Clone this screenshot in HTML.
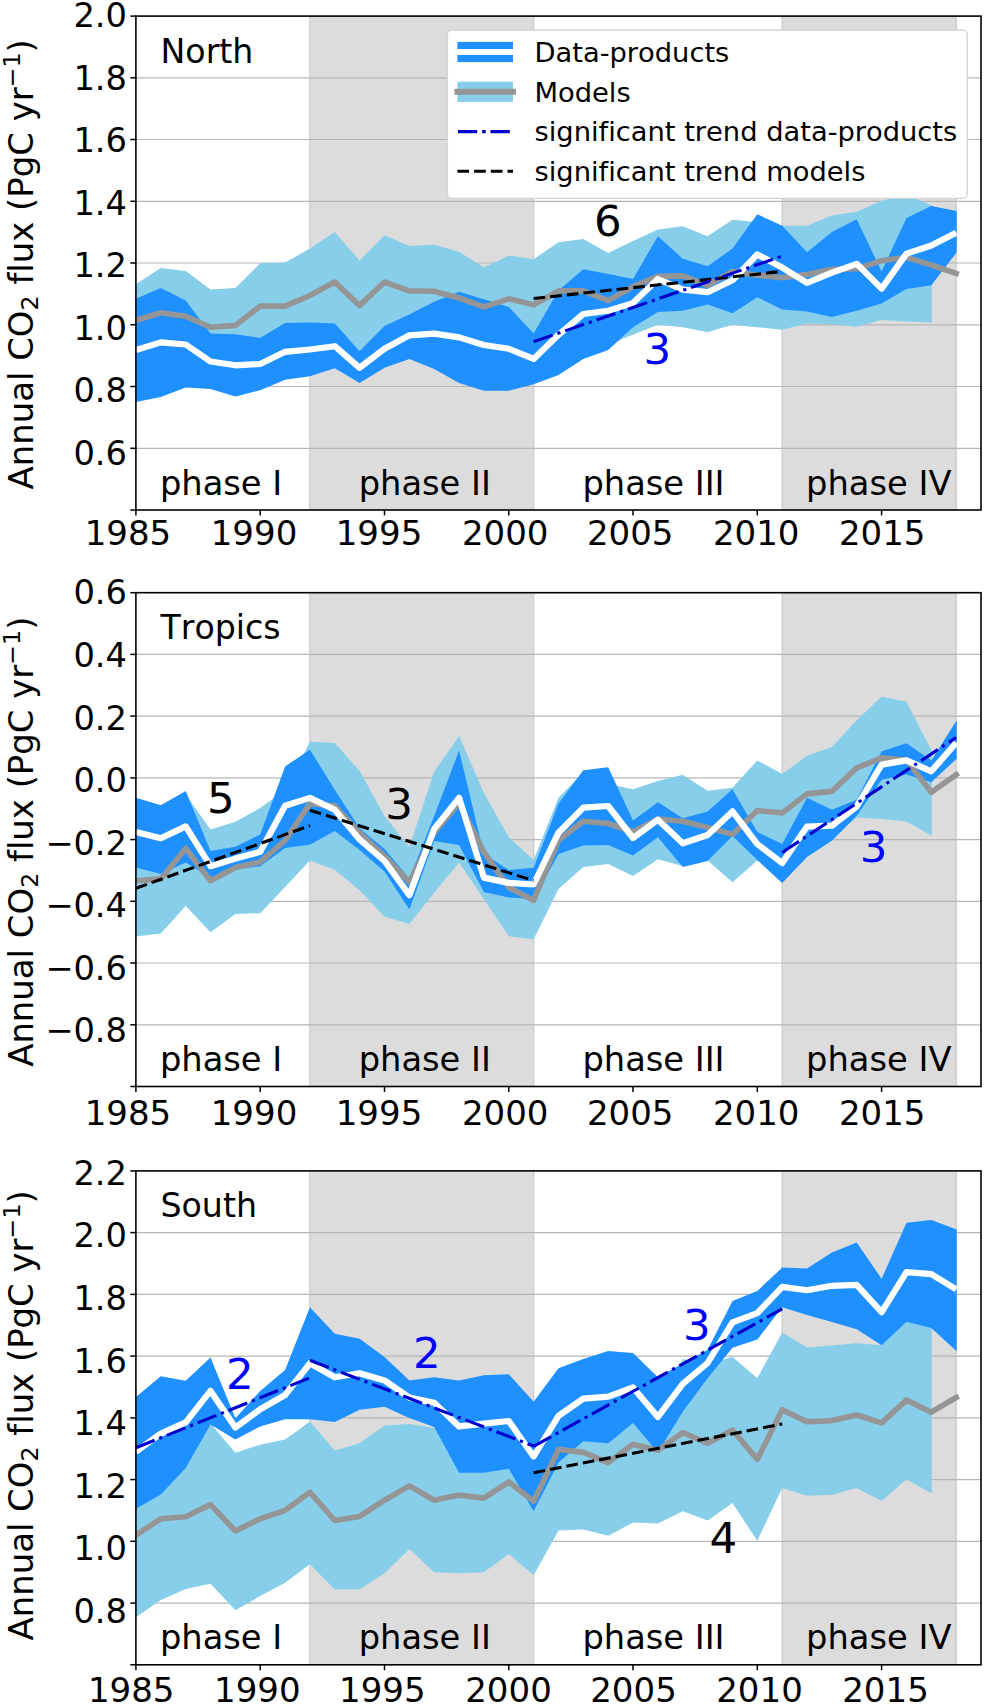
<!DOCTYPE html>
<html lang="en"><head><meta charset="utf-8"><title>Annual CO2 flux</title>
<style>html,body{margin:0;padding:0;background:#fff}svg{display:block}text{font-family:'DejaVu Sans','Liberation Sans',sans-serif;fill:#000;font-variant-ligatures:none;font-kerning:none}</style></head><body>
<svg width="985" height="1706" viewBox="0 0 985 1706">
<rect width="985" height="1706" fill="#fff"/>
<g id="panel1">
<clipPath id="clip0"><rect x="135.9" y="16.1" width="845.1" height="493.9"/></clipPath>
<rect x="309.3" y="16.1" width="224.9" height="493.9" fill="#dcdcdc"/>
<line x1="309.9" x2="309.9" y1="16.1" y2="510.0" stroke="#cdcdcd" stroke-width="1.2"/>
<line x1="533.6" x2="533.6" y1="16.1" y2="510.0" stroke="#cdcdcd" stroke-width="1.2"/>
<rect x="781.6" y="16.1" width="175.2" height="493.9" fill="#dcdcdc"/>
<line x1="782.2" x2="782.2" y1="16.1" y2="510.0" stroke="#cdcdcd" stroke-width="1.2"/>
<line x1="956.2" x2="956.2" y1="16.1" y2="510.0" stroke="#cdcdcd" stroke-width="1.2"/>
<line x1="135.9" x2="981.0" y1="77.8" y2="77.8" stroke="#b6b6b6" stroke-width="1.2"/>
<line x1="135.9" x2="981.0" y1="139.5" y2="139.5" stroke="#b6b6b6" stroke-width="1.2"/>
<line x1="135.9" x2="981.0" y1="201.3" y2="201.3" stroke="#b6b6b6" stroke-width="1.2"/>
<line x1="135.9" x2="981.0" y1="263.0" y2="263.0" stroke="#b6b6b6" stroke-width="1.2"/>
<line x1="135.9" x2="981.0" y1="324.8" y2="324.8" stroke="#b6b6b6" stroke-width="1.2"/>
<line x1="135.9" x2="981.0" y1="386.5" y2="386.5" stroke="#b6b6b6" stroke-width="1.2"/>
<line x1="135.9" x2="981.0" y1="448.3" y2="448.3" stroke="#b6b6b6" stroke-width="1.2"/>
<g clip-path="url(#clip0)">
<polygon points="135.9,284.1 160.8,268.1 185.7,270.9 210.5,289.6 235.4,287.9 260.2,263.2 285.1,262.5 309.9,248.5 334.8,232.0 359.6,260.7 384.5,235.3 409.4,246.0 434.2,244.7 459.1,251.8 483.9,267.6 508.8,255.6 533.6,259.2 558.5,242.2 583.3,238.9 608.2,253.1 633.0,240.9 657.9,229.5 682.8,226.2 707.6,236.3 732.5,219.8 757.3,221.9 782.2,225.7 807.0,225.7 831.9,215.5 856.7,211.7 881.6,200.8 906.5,194.7 931.8,205.4 931.8,322.6 906.5,321.6 881.6,320.1 856.7,326.7 831.9,324.2 807.0,323.4 782.2,329.7 757.3,327.2 732.5,324.7 707.6,332.3 682.8,327.2 657.9,324.7 633.0,334.8 608.2,344.5 583.3,315.1 558.5,333.7 533.6,359.9 508.8,349.8 483.9,346.0 459.1,338.4 434.2,336.5 409.4,337.7 384.5,347.9 359.6,368.2 334.8,346.9 309.9,350.4 285.1,352.3 260.2,365.0 235.4,366.4 210.5,362.2 185.7,345.1 160.8,343.4 135.9,351.4" fill="#87ceeb"/>
<polygon points="135.9,298.8 160.8,287.9 185.7,300.6 210.5,333.6 235.4,334.3 260.2,337.9 285.1,322.9 309.9,322.6 334.8,323.4 359.6,351.3 384.5,325.9 409.4,314.5 434.2,301.8 459.1,291.7 483.9,299.3 508.8,306.9 533.6,333.6 558.5,290.4 583.3,269.3 608.2,273.9 633.0,279.0 657.9,236.3 682.8,258.7 707.6,266.3 732.5,248.5 757.3,214.3 782.2,225.7 807.0,252.3 831.9,232.0 856.7,219.3 881.6,271.4 906.5,218.1 931.3,206.1 956.7,211.0 956.7,252.3 931.3,285.3 906.5,289.1 881.6,303.6 856.7,310.7 831.9,317.1 807.0,311.5 782.2,309.4 757.3,297.3 732.5,313.2 707.6,304.4 682.8,310.7 657.9,312.0 633.0,327.2 608.2,350.1 583.3,358.9 558.5,374.9 533.6,384.3 508.8,390.7 483.9,390.7 459.1,383.0 434.2,369.1 409.4,358.9 384.5,367.8 359.6,383.0 334.8,368.3 309.9,376.2 285.1,379.7 260.2,390.2 235.4,396.5 210.5,388.9 185.7,387.6 160.8,397.0 135.9,402.1" fill="#1e90ff"/>
<polyline points="135.9,320.4 160.8,312.7 185.7,316.3 210.5,327.2 235.4,325.4 260.2,306.1 285.1,306.1 309.9,295.5 334.8,282.0 359.6,305.6 384.5,282.0 409.4,290.9 434.2,291.2 459.1,298.0 483.9,306.9 508.8,298.8 533.6,304.9 558.5,290.9 583.3,290.9 608.2,300.6 633.0,286.6 657.9,276.4 682.8,275.9 707.6,285.3 732.5,271.4 757.3,275.2 782.2,277.7 807.0,274.4 831.9,269.3 856.7,268.8 881.6,260.7 906.5,257.4 931.3,265.0 956.2,273.4" fill="none" stroke="#959595" stroke-width="5.6" stroke-linejoin="round" stroke-linecap="square"/>
<polyline points="135.9,350.1 160.8,342.4 185.7,344.5 210.5,361.5 235.4,365.3 260.2,364.0 285.1,351.8 309.9,349.5 334.8,346.2 359.6,367.8 384.5,348.8 409.4,335.3 434.2,333.6 459.1,337.4 483.9,345.0 508.8,348.8 533.6,358.9 558.5,334.8 583.3,314.0 608.2,310.7 633.0,303.1 657.9,279.0 682.8,289.6 707.6,292.2 732.5,280.3 757.3,254.4 782.2,267.6 807.0,282.8 831.9,272.6 856.7,263.8 881.6,288.6 906.5,253.6 931.3,245.5 956.2,232.8" fill="none" stroke="#fff" stroke-width="6.2" stroke-linejoin="round" stroke-linecap="butt"/>
</g>
</g>
<g id="panel2">
<clipPath id="clip1"><rect x="135.9" y="592.7" width="845.1" height="493.8"/></clipPath>
<rect x="309.3" y="592.7" width="224.9" height="493.8" fill="#dcdcdc"/>
<line x1="309.9" x2="309.9" y1="592.7" y2="1086.5" stroke="#cdcdcd" stroke-width="1.2"/>
<line x1="533.6" x2="533.6" y1="592.7" y2="1086.5" stroke="#cdcdcd" stroke-width="1.2"/>
<rect x="781.6" y="592.7" width="175.2" height="493.8" fill="#dcdcdc"/>
<line x1="782.2" x2="782.2" y1="592.7" y2="1086.5" stroke="#cdcdcd" stroke-width="1.2"/>
<line x1="956.2" x2="956.2" y1="592.7" y2="1086.5" stroke="#cdcdcd" stroke-width="1.2"/>
<line x1="135.9" x2="981.0" y1="654.4" y2="654.4" stroke="#b6b6b6" stroke-width="1.2"/>
<line x1="135.9" x2="981.0" y1="716.1" y2="716.1" stroke="#b6b6b6" stroke-width="1.2"/>
<line x1="135.9" x2="981.0" y1="777.9" y2="777.9" stroke="#b6b6b6" stroke-width="1.2"/>
<line x1="135.9" x2="981.0" y1="839.6" y2="839.6" stroke="#b6b6b6" stroke-width="1.2"/>
<line x1="135.9" x2="981.0" y1="901.3" y2="901.3" stroke="#b6b6b6" stroke-width="1.2"/>
<line x1="135.9" x2="981.0" y1="963.0" y2="963.0" stroke="#b6b6b6" stroke-width="1.2"/>
<line x1="135.9" x2="981.0" y1="1024.8" y2="1024.8" stroke="#b6b6b6" stroke-width="1.2"/>
<g clip-path="url(#clip1)">
<polygon points="135.9,801.0 160.8,808.0 185.7,794.4 210.5,829.4 235.4,821.8 260.2,807.9 285.1,790.1 309.9,741.8 334.8,743.1 359.6,770.8 384.5,815.9 409.4,847.2 434.2,771.8 459.1,736.0 483.9,793.1 508.8,837.3 533.6,860.1 558.5,797.7 583.3,772.5 608.2,784.0 633.0,789.3 657.9,780.9 682.8,774.8 707.6,790.8 732.5,787.8 757.3,760.4 782.2,774.1 807.0,755.8 831.9,747.0 856.7,720.2 881.6,696.8 906.5,701.8 931.8,751.2 931.8,835.8 906.5,821.5 881.6,819.0 856.7,817.4 831.9,838.0 807.0,855.0 782.2,878.0 757.3,860.5 732.5,882.2 707.6,860.5 682.8,866.0 657.9,859.3 633.0,876.1 608.2,863.9 583.3,866.9 558.5,889.0 533.6,939.3 508.8,936.2 483.9,899.2 459.1,862.4 434.2,892.8 409.4,924.1 384.5,916.4 359.6,890.3 334.8,869.8 309.9,860.6 285.1,887.0 260.2,913.2 235.4,914.0 210.5,932.2 185.7,906.1 160.8,933.5 135.9,936.5" fill="#87ceeb"/>
<polygon points="135.9,797.7 160.8,805.3 185.7,790.9 210.5,851.0 235.4,846.7 260.2,834.5 285.1,766.5 309.9,749.7 334.8,789.7 359.6,828.2 384.5,849.0 409.4,878.4 434.2,815.9 459.1,750.5 483.9,854.0 508.8,870.0 533.6,867.7 558.5,803.5 583.3,770.3 608.2,767.2 633.0,820.5 657.9,802.2 682.8,818.2 707.6,811.4 732.5,789.3 757.3,831.9 782.2,844.1 807.0,797.7 831.9,809.8 856.7,799.8 881.6,751.2 906.5,743.3 931.3,760.4 956.7,720.2 956.7,758.7 931.3,782.2 906.5,774.6 881.6,779.7 856.7,815.7 831.9,840.8 807.0,857.0 782.2,882.9 757.3,860.1 732.5,836.0 707.6,860.9 682.8,866.9 657.9,837.3 633.0,855.5 608.2,844.9 583.3,845.6 558.5,854.0 533.6,898.9 508.8,897.4 483.9,892.1 459.1,844.9 434.2,841.1 409.4,909.6 384.5,871.5 359.6,850.0 334.8,830.9 309.9,844.7 285.1,848.0 260.2,866.2 235.4,869.5 210.5,877.7 185.7,862.4 160.8,873.9 135.9,867.5" fill="#1e90ff"/>
<polyline points="135.9,880.7 160.8,878.9 185.7,848.5 210.5,880.7 235.4,867.5 260.2,861.9 285.1,840.5 309.9,803.8 334.8,805.8 359.6,832.8 384.5,856.0 409.4,882.2 434.2,832.7 459.1,803.0 483.9,852.2 508.8,887.5 533.6,900.4 558.5,840.3 583.3,821.3 608.2,823.5 633.0,831.9 657.9,819.0 682.8,821.3 707.6,827.4 732.5,834.5 757.3,810.6 782.2,812.9 807.0,793.9 831.9,791.4 856.7,767.9 881.6,757.9 906.5,760.4 931.3,792.2 956.2,774.6" fill="none" stroke="#959595" stroke-width="5.6" stroke-linejoin="round" stroke-linecap="square"/>
<polyline points="135.9,832.0 160.8,838.3 185.7,826.4 210.5,866.2 235.4,858.6 260.2,851.8 285.1,805.8 309.9,797.9 334.8,809.7 359.6,839.4 384.5,861.0 409.4,895.1 434.2,828.9 459.1,797.9 483.9,877.6 508.8,882.9 533.6,884.5 558.5,832.7 583.3,807.6 608.2,806.0 633.0,838.0 657.9,819.7 682.8,843.3 707.6,835.0 732.5,811.4 757.3,844.1 782.2,863.1 807.0,826.6 831.9,825.7 856.7,806.5 881.6,764.6 906.5,760.4 931.3,771.3 956.2,742.8" fill="none" stroke="#fff" stroke-width="6.2" stroke-linejoin="round" stroke-linecap="butt"/>
</g>
</g>
<g id="panel3">
<clipPath id="clip2"><rect x="135.9" y="1170.9" width="845.1" height="493.9"/></clipPath>
<rect x="309.3" y="1170.9" width="224.9" height="493.9" fill="#dcdcdc"/>
<line x1="309.9" x2="309.9" y1="1170.9" y2="1664.8" stroke="#cdcdcd" stroke-width="1.2"/>
<line x1="533.6" x2="533.6" y1="1170.9" y2="1664.8" stroke="#cdcdcd" stroke-width="1.2"/>
<rect x="781.6" y="1170.9" width="175.2" height="493.9" fill="#dcdcdc"/>
<line x1="782.2" x2="782.2" y1="1170.9" y2="1664.8" stroke="#cdcdcd" stroke-width="1.2"/>
<line x1="956.2" x2="956.2" y1="1170.9" y2="1664.8" stroke="#cdcdcd" stroke-width="1.2"/>
<line x1="135.9" x2="981.0" y1="1232.6" y2="1232.6" stroke="#b6b6b6" stroke-width="1.2"/>
<line x1="135.9" x2="981.0" y1="1294.4" y2="1294.4" stroke="#b6b6b6" stroke-width="1.2"/>
<line x1="135.9" x2="981.0" y1="1356.1" y2="1356.1" stroke="#b6b6b6" stroke-width="1.2"/>
<line x1="135.9" x2="981.0" y1="1417.9" y2="1417.9" stroke="#b6b6b6" stroke-width="1.2"/>
<line x1="135.9" x2="981.0" y1="1479.6" y2="1479.6" stroke="#b6b6b6" stroke-width="1.2"/>
<line x1="135.9" x2="981.0" y1="1541.3" y2="1541.3" stroke="#b6b6b6" stroke-width="1.2"/>
<line x1="135.9" x2="981.0" y1="1603.1" y2="1603.1" stroke="#b6b6b6" stroke-width="1.2"/>
<g clip-path="url(#clip2)">
<polygon points="135.9,1506.0 160.8,1492.0 185.7,1466.0 210.5,1423.5 235.4,1452.8 260.2,1444.7 285.1,1439.6 309.9,1421.5 334.8,1450.4 359.6,1443.3 384.5,1425.6 409.4,1424.0 434.2,1428.1 459.1,1426.6 483.9,1424.0 508.8,1421.5 533.6,1456.5 558.5,1415.4 583.3,1400.2 608.2,1397.1 633.0,1388.0 657.9,1414.8 682.8,1358.9 707.6,1364.0 732.5,1356.9 757.3,1378.2 782.2,1332.5 807.0,1347.6 831.9,1345.4 856.7,1343.2 881.6,1345.2 906.5,1272.2 931.8,1273.9 931.8,1493.4 906.5,1479.2 881.6,1500.9 856.7,1488.1 831.9,1494.7 807.0,1495.7 782.2,1487.9 757.3,1540.7 732.5,1503.1 707.6,1520.4 682.8,1511.3 657.9,1523.5 633.0,1522.5 608.2,1535.7 583.3,1529.6 558.5,1530.6 533.6,1575.3 508.8,1554.0 483.9,1572.2 459.1,1573.2 434.2,1572.2 409.4,1548.9 384.5,1573.2 359.6,1589.5 334.8,1589.5 309.9,1564.3 285.1,1582.8 260.2,1596.0 235.4,1610.2 210.5,1583.8 185.7,1588.9 160.8,1600.0 135.9,1617.3" fill="#87ceeb"/>
<polygon points="135.9,1397.0 160.8,1376.3 185.7,1380.8 210.5,1357.4 235.4,1418.3 260.2,1390.9 285.1,1370.0 309.9,1307.3 334.8,1333.7 359.6,1338.7 384.5,1357.0 409.4,1380.4 434.2,1377.3 459.1,1380.4 483.9,1375.3 508.8,1374.3 533.6,1401.7 558.5,1368.2 583.3,1359.0 608.2,1350.9 633.0,1352.9 657.9,1377.3 682.8,1363.5 707.6,1349.8 732.5,1301.1 757.3,1290.9 782.2,1267.6 807.0,1268.4 831.9,1252.4 856.7,1242.6 881.6,1278.8 906.5,1222.7 931.3,1219.9 956.7,1229.4 956.7,1351.3 931.3,1327.9 906.5,1321.8 881.6,1345.2 856.7,1329.2 831.9,1322.1 807.0,1315.0 782.2,1307.2 757.3,1339.6 732.5,1347.8 707.6,1378.2 682.8,1411.5 657.9,1452.4 633.0,1423.0 608.2,1443.3 583.3,1441.3 558.5,1462.6 533.6,1511.3 508.8,1468.7 483.9,1472.7 459.1,1472.7 434.2,1427.1 409.4,1417.9 384.5,1406.8 359.6,1409.8 334.8,1422.0 309.9,1419.2 285.1,1419.3 260.2,1426.4 235.4,1439.6 210.5,1424.4 185.7,1468.1 160.8,1494.5 135.9,1508.7" fill="#1e90ff"/>
<polyline points="135.9,1535.1 160.8,1518.8 185.7,1516.8 210.5,1504.6 235.4,1531.0 260.2,1518.8 285.1,1510.3 309.9,1492.2 334.8,1520.5 359.6,1516.4 384.5,1500.2 409.4,1485.9 434.2,1500.2 459.1,1495.1 483.9,1498.1 508.8,1481.9 533.6,1501.2 558.5,1449.4 583.3,1452.4 608.2,1462.6 633.0,1444.3 657.9,1450.4 682.8,1432.5 707.6,1443.2 732.5,1430.0 757.3,1459.4 782.2,1409.7 807.0,1421.8 831.9,1420.6 856.7,1415.0 881.6,1422.9 906.5,1400.0 931.3,1412.2 956.2,1397.4" fill="none" stroke="#959595" stroke-width="5.6" stroke-linejoin="round" stroke-linecap="square"/>
<polyline points="135.9,1451.8 160.8,1433.6 185.7,1422.4 210.5,1390.9 235.4,1427.5 260.2,1409.2 285.1,1395.0 309.9,1363.3 334.8,1377.3 359.6,1373.2 384.5,1380.4 409.4,1397.6 434.2,1402.7 459.1,1426.4 483.9,1423.6 508.8,1421.0 533.6,1456.5 558.5,1415.9 583.3,1398.6 608.2,1396.6 633.0,1387.5 657.9,1416.9 682.8,1383.9 707.6,1363.0 732.5,1322.4 757.3,1313.2 782.2,1286.9 807.0,1290.2 831.9,1285.8 856.7,1284.8 881.6,1312.1 906.5,1272.1 931.3,1274.1 956.2,1289.3" fill="none" stroke="#fff" stroke-width="6.2" stroke-linejoin="round" stroke-linecap="butt"/>
</g>
</g>
<g id="trends" fill="none">
<line x1="533.6" y1="298.5" x2="782.2" y2="271.4" stroke="#000" stroke-width="3.1" stroke-dasharray="11.7 5.0"/>
<line x1="533.6" y1="341.7" x2="782.2" y2="256.1" stroke="#0000cd" stroke-width="3.1" stroke-dasharray="20.1 5.0 3.2 5.0"/>
<line x1="135.9" y1="888.3" x2="309.9" y2="825.6" stroke="#000" stroke-width="3.1" stroke-dasharray="11.7 5.0"/>
<line x1="309.9" y1="810.2" x2="533.6" y2="880.6" stroke="#000" stroke-width="3.1" stroke-dasharray="11.7 5.0"/>
<line x1="782.2" y1="852.5" x2="956.2" y2="737.5" stroke="#0000cd" stroke-width="3.1" stroke-dasharray="20.1 5.0 3.2 5.0"/>
<line x1="135.9" y1="1447.8" x2="309.9" y2="1377.7" stroke="#0000cd" stroke-width="3.1" stroke-dasharray="20.1 5.0 3.2 5.0"/>
<line x1="309.9" y1="1360.3" x2="533.6" y2="1446.0" stroke="#0000cd" stroke-width="3.1" stroke-dasharray="20.1 5.0 3.2 5.0"/>
<line x1="533.6" y1="1446.3" x2="782.2" y2="1308.9" stroke="#0000cd" stroke-width="3.1" stroke-dasharray="20.1 5.0 3.2 5.0"/>
<line x1="533.6" y1="1472.7" x2="782.2" y2="1424.0" stroke="#000" stroke-width="3.1" stroke-dasharray="11.7 5.0"/>
</g>
<g id="axes1">
<line x1="130.3" x2="135.9" y1="510.0" y2="510.0" stroke="#000" stroke-width="1.5"/>
<line x1="130.3" x2="135.9" y1="16.1" y2="16.1" stroke="#000" stroke-width="1.5"/>
<text x="127.0" y="27.1" font-size="33.7" text-anchor="end">2.0</text>
<line x1="130.3" x2="135.9" y1="77.8" y2="77.8" stroke="#000" stroke-width="1.5"/>
<text x="127.0" y="89.7" font-size="33.7" text-anchor="end">1.8</text>
<line x1="130.3" x2="135.9" y1="139.5" y2="139.5" stroke="#000" stroke-width="1.5"/>
<text x="127.0" y="152.2" font-size="33.7" text-anchor="end">1.6</text>
<line x1="130.3" x2="135.9" y1="201.3" y2="201.3" stroke="#000" stroke-width="1.5"/>
<text x="127.0" y="214.8" font-size="33.7" text-anchor="end">1.4</text>
<line x1="130.3" x2="135.9" y1="263.0" y2="263.0" stroke="#000" stroke-width="1.5"/>
<text x="127.0" y="277.3" font-size="33.7" text-anchor="end">1.2</text>
<line x1="130.3" x2="135.9" y1="324.8" y2="324.8" stroke="#000" stroke-width="1.5"/>
<text x="127.0" y="339.9" font-size="33.7" text-anchor="end">1.0</text>
<line x1="130.3" x2="135.9" y1="386.5" y2="386.5" stroke="#000" stroke-width="1.5"/>
<text x="127.0" y="402.4" font-size="33.7" text-anchor="end">0.8</text>
<line x1="130.3" x2="135.9" y1="448.3" y2="448.3" stroke="#000" stroke-width="1.5"/>
<text x="127.0" y="465.0" font-size="33.7" text-anchor="end">0.6</text>
<line x1="135.9" x2="135.9" y1="510.0" y2="515.4" stroke="#000" stroke-width="1.5"/>
<text x="127.9" y="545.4" font-size="34.0" text-anchor="middle">1985</text>
<line x1="260.2" x2="260.2" y1="510.0" y2="515.4" stroke="#000" stroke-width="1.5"/>
<text x="254.0" y="545.4" font-size="34.0" text-anchor="middle">1990</text>
<line x1="384.5" x2="384.5" y1="510.0" y2="515.4" stroke="#000" stroke-width="1.5"/>
<text x="379.0" y="545.4" font-size="34.0" text-anchor="middle">1995</text>
<line x1="508.8" x2="508.8" y1="510.0" y2="515.4" stroke="#000" stroke-width="1.5"/>
<text x="505.2" y="545.4" font-size="34.0" text-anchor="middle">2000</text>
<line x1="633.0" x2="633.0" y1="510.0" y2="515.4" stroke="#000" stroke-width="1.5"/>
<text x="630.2" y="545.4" font-size="34.0" text-anchor="middle">2005</text>
<line x1="757.3" x2="757.3" y1="510.0" y2="515.4" stroke="#000" stroke-width="1.5"/>
<text x="756.2" y="545.4" font-size="34.0" text-anchor="middle">2010</text>
<line x1="881.6" x2="881.6" y1="510.0" y2="515.4" stroke="#000" stroke-width="1.5"/>
<text x="882.2" y="545.4" font-size="34.0" text-anchor="middle">2015</text>
<rect x="135.9" y="16.1" width="845.1" height="493.9" fill="none" stroke="#000" stroke-width="1.6"/>
<text x="160.5" y="62.5" font-size="33.2">North</text>
<text x="159.9" y="494.6" font-size="33.7">phase I</text>
<text x="358.7" y="494.6" font-size="33.7">phase II</text>
<text x="582.4" y="494.6" font-size="33.7">phase III</text>
<text x="806.1" y="494.6" font-size="33.7">phase IV</text>
<text transform="translate(32.6 264.3) rotate(-90)" font-size="33.9" text-anchor="middle">Annual CO<tspan font-size="23.7" dy="5.5">2</tspan><tspan dy="-5.5"> flux (PgC yr</tspan><tspan font-size="23.7" dy="-12.5">−1</tspan><tspan dy="12.5">)</tspan></text>
</g>
<g id="axes2">
<line x1="130.3" x2="135.9" y1="1086.5" y2="1086.5" stroke="#000" stroke-width="1.5"/>
<line x1="130.3" x2="135.9" y1="592.7" y2="592.7" stroke="#000" stroke-width="1.5"/>
<text x="127.0" y="604.4" font-size="33.7" text-anchor="end">0.6</text>
<line x1="130.3" x2="135.9" y1="654.4" y2="654.4" stroke="#000" stroke-width="1.5"/>
<text x="127.0" y="667.0" font-size="33.7" text-anchor="end">0.4</text>
<line x1="130.3" x2="135.9" y1="716.1" y2="716.1" stroke="#000" stroke-width="1.5"/>
<text x="127.0" y="729.5" font-size="33.7" text-anchor="end">0.2</text>
<line x1="130.3" x2="135.9" y1="777.9" y2="777.9" stroke="#000" stroke-width="1.5"/>
<text x="127.0" y="792.1" font-size="33.7" text-anchor="end">0.0</text>
<line x1="130.3" x2="135.9" y1="839.6" y2="839.6" stroke="#000" stroke-width="1.5"/>
<text x="127.0" y="854.6" font-size="33.7" text-anchor="end">−0.2</text>
<line x1="130.3" x2="135.9" y1="901.3" y2="901.3" stroke="#000" stroke-width="1.5"/>
<text x="127.0" y="917.2" font-size="33.7" text-anchor="end">−0.4</text>
<line x1="130.3" x2="135.9" y1="963.0" y2="963.0" stroke="#000" stroke-width="1.5"/>
<text x="127.0" y="979.7" font-size="33.7" text-anchor="end">−0.6</text>
<line x1="130.3" x2="135.9" y1="1024.8" y2="1024.8" stroke="#000" stroke-width="1.5"/>
<text x="127.0" y="1042.2" font-size="33.7" text-anchor="end">−0.8</text>
<line x1="135.9" x2="135.9" y1="1086.5" y2="1091.9" stroke="#000" stroke-width="1.5"/>
<text x="127.9" y="1125.0" font-size="34.0" text-anchor="middle">1985</text>
<line x1="260.2" x2="260.2" y1="1086.5" y2="1091.9" stroke="#000" stroke-width="1.5"/>
<text x="254.0" y="1125.0" font-size="34.0" text-anchor="middle">1990</text>
<line x1="384.5" x2="384.5" y1="1086.5" y2="1091.9" stroke="#000" stroke-width="1.5"/>
<text x="379.0" y="1125.0" font-size="34.0" text-anchor="middle">1995</text>
<line x1="508.8" x2="508.8" y1="1086.5" y2="1091.9" stroke="#000" stroke-width="1.5"/>
<text x="505.2" y="1125.0" font-size="34.0" text-anchor="middle">2000</text>
<line x1="633.0" x2="633.0" y1="1086.5" y2="1091.9" stroke="#000" stroke-width="1.5"/>
<text x="630.2" y="1125.0" font-size="34.0" text-anchor="middle">2005</text>
<line x1="757.3" x2="757.3" y1="1086.5" y2="1091.9" stroke="#000" stroke-width="1.5"/>
<text x="756.2" y="1125.0" font-size="34.0" text-anchor="middle">2010</text>
<line x1="881.6" x2="881.6" y1="1086.5" y2="1091.9" stroke="#000" stroke-width="1.5"/>
<text x="882.2" y="1125.0" font-size="34.0" text-anchor="middle">2015</text>
<rect x="135.9" y="592.7" width="845.1" height="493.8" fill="none" stroke="#000" stroke-width="1.6"/>
<text x="160.5" y="639.1" font-size="33.2">Tropics</text>
<text x="159.9" y="1071.1" font-size="33.7">phase I</text>
<text x="358.7" y="1071.1" font-size="33.7">phase II</text>
<text x="582.4" y="1071.1" font-size="33.7">phase III</text>
<text x="806.1" y="1071.1" font-size="33.7">phase IV</text>
<text transform="translate(32.6 841.7) rotate(-90)" font-size="33.9" text-anchor="middle">Annual CO<tspan font-size="23.7" dy="5.5">2</tspan><tspan dy="-5.5"> flux (PgC yr</tspan><tspan font-size="23.7" dy="-12.5">−1</tspan><tspan dy="12.5">)</tspan></text>
</g>
<g id="axes3">
<line x1="130.3" x2="135.9" y1="1664.8" y2="1664.8" stroke="#000" stroke-width="1.5"/>
<line x1="130.3" x2="135.9" y1="1170.9" y2="1170.9" stroke="#000" stroke-width="1.5"/>
<text x="127.0" y="1184.8" font-size="33.7" text-anchor="end">2.2</text>
<line x1="130.3" x2="135.9" y1="1232.6" y2="1232.6" stroke="#000" stroke-width="1.5"/>
<text x="127.0" y="1247.4" font-size="33.7" text-anchor="end">2.0</text>
<line x1="130.3" x2="135.9" y1="1294.4" y2="1294.4" stroke="#000" stroke-width="1.5"/>
<text x="127.0" y="1309.9" font-size="33.7" text-anchor="end">1.8</text>
<line x1="130.3" x2="135.9" y1="1356.1" y2="1356.1" stroke="#000" stroke-width="1.5"/>
<text x="127.0" y="1372.5" font-size="33.7" text-anchor="end">1.6</text>
<line x1="130.3" x2="135.9" y1="1417.9" y2="1417.9" stroke="#000" stroke-width="1.5"/>
<text x="127.0" y="1435.0" font-size="33.7" text-anchor="end">1.4</text>
<line x1="130.3" x2="135.9" y1="1479.6" y2="1479.6" stroke="#000" stroke-width="1.5"/>
<text x="127.0" y="1497.6" font-size="33.7" text-anchor="end">1.2</text>
<line x1="130.3" x2="135.9" y1="1541.3" y2="1541.3" stroke="#000" stroke-width="1.5"/>
<text x="127.0" y="1560.1" font-size="33.7" text-anchor="end">1.0</text>
<line x1="130.3" x2="135.9" y1="1603.1" y2="1603.1" stroke="#000" stroke-width="1.5"/>
<text x="127.0" y="1622.7" font-size="33.7" text-anchor="end">0.8</text>
<line x1="135.9" x2="135.9" y1="1664.8" y2="1670.2" stroke="#000" stroke-width="1.5"/>
<text x="131.2" y="1701.8" font-size="34.0" text-anchor="middle">1985</text>
<line x1="260.2" x2="260.2" y1="1664.8" y2="1670.2" stroke="#000" stroke-width="1.5"/>
<text x="257.3" y="1701.8" font-size="34.0" text-anchor="middle">1990</text>
<line x1="384.5" x2="384.5" y1="1664.8" y2="1670.2" stroke="#000" stroke-width="1.5"/>
<text x="382.3" y="1701.8" font-size="34.0" text-anchor="middle">1995</text>
<line x1="508.8" x2="508.8" y1="1664.8" y2="1670.2" stroke="#000" stroke-width="1.5"/>
<text x="508.5" y="1701.8" font-size="34.0" text-anchor="middle">2000</text>
<line x1="633.0" x2="633.0" y1="1664.8" y2="1670.2" stroke="#000" stroke-width="1.5"/>
<text x="633.5" y="1701.8" font-size="34.0" text-anchor="middle">2005</text>
<line x1="757.3" x2="757.3" y1="1664.8" y2="1670.2" stroke="#000" stroke-width="1.5"/>
<text x="759.5" y="1701.8" font-size="34.0" text-anchor="middle">2010</text>
<line x1="881.6" x2="881.6" y1="1664.8" y2="1670.2" stroke="#000" stroke-width="1.5"/>
<text x="885.5" y="1701.8" font-size="34.0" text-anchor="middle">2015</text>
<rect x="135.9" y="1170.9" width="845.1" height="493.9" fill="none" stroke="#000" stroke-width="1.6"/>
<text x="160.5" y="1217.3" font-size="33.2">South</text>
<text x="159.9" y="1649.4" font-size="33.7">phase I</text>
<text x="358.7" y="1649.4" font-size="33.7">phase II</text>
<text x="582.4" y="1649.4" font-size="33.7">phase III</text>
<text x="806.1" y="1649.4" font-size="33.7">phase IV</text>
<text transform="translate(32.6 1415.4) rotate(-90)" font-size="33.9" text-anchor="middle">Annual CO<tspan font-size="23.7" dy="5.5">2</tspan><tspan dy="-5.5"> flux (PgC yr</tspan><tspan font-size="23.7" dy="-12.5">−1</tspan><tspan dy="12.5">)</tspan></text>
</g>
<g id="nums">
<text x="594.0" y="236.0" font-size="43.5" style="fill:#000">6</text>
<text x="643.5" y="364.0" font-size="43.5" style="fill:#0000ff">3</text>
<text x="207.0" y="813.0" font-size="43.5" style="fill:#000">5</text>
<text x="385.3" y="819.0" font-size="43.5" style="fill:#000">3</text>
<text x="859.7" y="861.7" font-size="43.5" style="fill:#0000ff">3</text>
<text x="226.0" y="1388.9" font-size="43.5" style="fill:#0000ff">2</text>
<text x="413.1" y="1368.2" font-size="43.5" style="fill:#0000ff">2</text>
<text x="683.0" y="1339.6" font-size="43.5" style="fill:#0000ff">3</text>
<text x="709.5" y="1552.8" font-size="43.5" style="fill:#000">4</text>
</g>
<g id="legend">
<rect x="447.4" y="30.0" width="519.8" height="168.4" rx="4.5" ry="4.5" fill="#fff" stroke="#d4d4d4" stroke-width="1.4"/>
<rect x="457.4" y="41.9" width="55.6" height="20.2" fill="#1e90ff"/>
<line x1="454.4" x2="516.0" y1="52.0" y2="52.0" stroke="#fff" stroke-width="6.2"/>
<rect x="457.4" y="81.7" width="55.6" height="20.2" fill="#87ceeb"/>
<line x1="454.4" x2="516.0" y1="91.8" y2="91.8" stroke="#959595" stroke-width="5.9"/>
<line x1="457.9" x2="510.0" y1="131.6" y2="131.6" stroke="#0000cd" stroke-width="3.1" stroke-dasharray="19.3 4.9 3.6 4.8"/>
<line x1="457.4" x2="513.0" y1="171.3" y2="171.3" stroke="#000" stroke-width="3.1" stroke-dasharray="11.7 5.0"/>
<text x="534.5" y="61.7" font-size="27.3">Data-products</text>
<text x="534.5" y="101.5" font-size="27.3">Models</text>
<text x="534.5" y="141.3" font-size="27.3">significant trend data-products</text>
<text x="534.5" y="181.0" font-size="27.3">significant trend models</text>
</g>
</svg></body></html>
